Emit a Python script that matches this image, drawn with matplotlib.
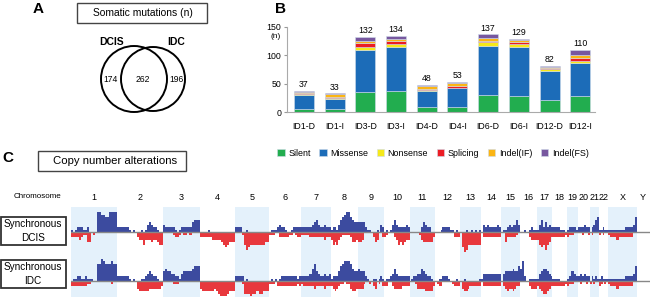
import numpy as np
import matplotlib.pyplot as plt
from matplotlib.patches import Rectangle, Circle

plt.rcParams['font.family'] = ['Liberation Sans', 'DejaVu Sans']

# ---- Panel A: Venn counts (DCIS only, shared, IDC only)
venn_labels = ["DCIS", "IDC"]
venn_counts = [174, 262, 196]

# ---- Panel B: somatic mutations per sample
samples = ["ID1-D", "ID1-I", "ID3-D", "ID3-I", "ID4-D",
           "ID4-I", "ID6-D", "ID6-I", "ID12-D", "ID12-I"]
mut_types = ["Silent", "Missense", "Nonsense", "Splicing", "Indel(IF)", "Indel(FS)"]
mut_colors = ["#22ad4f", "#1c6cb8", "#f5e91a", "#ec1c24", "#fbb514", "#77579f"]
silent = [6, 5, 36, 37, 9, 9, 30, 29, 22, 28]
missense = [24, 18, 73, 78, 28, 33, 86, 85, 51, 59]
nonsense = [1, 2, 5, 5, 1, 1, 7, 6, 3, 3]
splicing = [2, 2, 8, 5, 3, 3, 3, 4, 1, 5]
indel_if = [3, 5, 4, 3, 5, 5, 4, 3, 3, 5]
indel_fs = [1, 1, 6, 6, 2, 2, 7, 2, 2, 10]
totals = [37, 33, 132, 134, 48, 53, 137, 129, 82, 110]

# ---- Panel C: copy number alterations
chroms = [str(i) for i in range(1, 23)] + ["X", "Y"]
chrom_len = [249, 243, 198, 191, 181, 171, 159, 146, 141, 136, 135, 134,
             115, 107, 102, 90, 83, 78, 59, 63, 48, 51, 155, 57]  # Mb
# one digit per bin along each chromosome (relative frequency level)
dcis_gain = ["10122211200008877668888", "22222210100010134322100", "322222101222224555",
             "000010000000000000", "2220010000000000", "0111232210012222",
             "22222345322322", "12213567886544", "44442110001032", "0101353222232",
             "0000002432200", "0001222211010", "00010010101", "0323222232",
             "0112323353", "00101211", "13524232", "22221110", "12221", "222322",
             "02356", "11211", "11111111222236", "000"]
dcis_loss = ["22223211440100000000000", "00000000002335333433455", "000001221011010000",
             "222222333334565444", "0001576555555544", "1110022222110122",
             "11112222222322", "35453211112443", "44300000243002", "2100023545433",
             "0000013444442", "0000000000222", "06875555555", "0222222222",
             "0042222210", "00002333", "35657542", "22222221", "21100", "001001",
             "01000", "10100", "12223222222200", "000"]
idc_gain = ["01122112111007798777877", "22222210100011234322100", "454433221344445666",
            "000000000000000000", "2222010000000000", "0101012222222212",
            "22223574322323", "12224678887544", "54442100110121", "0112353222222",
            "0122335432210", "0011222100010", "00100000001", "1333333333",
            "0344445446", "58201111", "13455432", "11110000", "12432", "232322",
            "02121", "12111", "11111111222236", "000"]
idc_loss = ["22222222110000000000100", "00000000003444443333332", "000001110000000000",
            "344444434566665444", "0001555655455444", "1110222222222212",
            "12222232222322", "23432110113443", "33310010230102", "2200233332222",
            "0001333344442", "0122000001222", "03443222222", "0222222222",
            "0234334322", "00002333", "23455432", "22222221", "21100", "010010",
            "10100", "21010", "12223222222200", "000"]

W, H = 650, 306
LEVEL = 2.5  # px per level


def fig_rect(left, top, width, height):
    # pixel box (from top-left) -> figure fraction
    return [left / W, 1 - (top + height) / H, width / W, height / H]


def draw_overlay(fig):
    ov = fig.add_axes([0, 0, 1, 1])
    ov.set_xlim(0, W)
    ov.set_ylim(H, 0)
    ov.axis("off")
    ov.patch.set_visible(False)

    # panel letters
    for lab, x, y in [("A", 38, 9), ("B", 280, 9), ("C", 8, 158)]:
        ov.text(x, y, lab, fontsize=11, fontweight="bold", ha="center", va="center")

    # titled boxes
    ov.add_patch(Rectangle((77, 3), 130, 20, fill=False, ec="#444444", lw=1.0))
    ov.text(143, 13.5, "Somatic mutations (n)", fontsize=7.4, ha="center", va="center")
    ov.add_patch(Rectangle((38, 151), 148, 20, fill=False, ec="#444444", lw=1.0))
    ov.text(115, 161.5, "Copy number alterations", fontsize=8.2, ha="center", va="center")

    # Venn diagram
    ov.add_patch(Circle((134, 79), 33, fill=False, ec="black", lw=1.4))
    ov.add_patch(Circle((153, 79), 32, fill=False, ec="black", lw=1.4))
    ov.text(112, 42, venn_labels[0], fontsize=7.5, fontweight="bold", ha="center", va="center")
    ov.text(176, 42, venn_labels[1], fontsize=7.5, fontweight="bold", ha="center", va="center")
    for x, n in zip([110.5, 143, 176.5], venn_counts):
        ov.text(x, 80, str(n), fontsize=6.2, ha="center", va="center")

    # row label boxes
    for top, name in [(217, "DCIS"), (260, "IDC")]:
        ov.add_patch(Rectangle((0.5, top), 65, 28, fill=False, ec="#333333", lw=1.3))
        ov.text(33, top + 7, "Synchronous", fontsize=7.2, ha="center", va="center")
        ov.text(33, top + 21, name, fontsize=7.2, ha="center", va="center")

    ov.text(37, 197, "Chromosome", fontsize=5.8, ha="center", va="center")


def draw_bars(fig):
    ax = fig.add_axes(fig_rect(287, 27, 308, 85))
    x = np.arange(len(samples))
    stacks = [silent, missense, nonsense, splicing, indel_if, indel_fs]
    bottom = np.zeros(len(samples))
    for vals, col, name in zip(stacks, mut_colors, mut_types):
        ax.bar(x, vals, 0.65, bottom=bottom, color=col, edgecolor="#cfdcea",
               linewidth=0.4, label=name)
        bottom += np.array(vals)
    for xi, t in zip(x, totals):
        ax.text(xi, t + 11, str(t), fontsize=6.3, ha="center", va="center")

    ax.set_xlim(-0.55, 9.48)
    ax.set_ylim(0, 150)
    ax.set_yticks([0, 50, 100, 150])
    ax.set_xticks(x)
    ax.set_xticklabels(samples)
    ax.tick_params(axis="y", labelsize=6.3, length=2, color="#999999", pad=2)
    ax.tick_params(axis="x", labelsize=6.3, length=0, pad=7)
    for s in ["top", "right"]:
        ax.spines[s].set_visible(False)
    for s in ["left", "bottom"]:
        ax.spines[s].set_color("#aaaaaa")
        ax.spines[s].set_linewidth(0.8)
    ax.text(-0.75, 133, "(n)", fontsize=6, ha="right", va="center")

    handles, labels = ax.get_legend_handles_labels()
    fig.legend(handles, labels, loc="center", bbox_to_anchor=(433 / W, 1 - 153 / H),
               ncol=6, frameon=False, fontsize=6.4, handlelength=0.8,
               handleheight=0.8, handletextpad=0.4, columnspacing=1.0)


def draw_cna(fig):
    ax = fig.add_axes(fig_rect(71, 207, 579, 90))
    starts = np.concatenate([[0], np.cumsum(chrom_len)[:-1]])
    ax.set_xlim(0, 3104)
    ax.set_ylim(0, 90)
    ax.axis("off")

    for i, (s, L) in enumerate(zip(starts, chrom_len)):
        if i % 2 == 0:
            ax.axvspan(s, s + L, color="#e4f1fb", lw=0, zorder=0)
        lab_y = 1 + 10 / 90
        ax.text(s + L / 2, lab_y, chroms[i], transform=ax.get_xaxis_transform(),
                fontsize=6.5, ha="center", va="center", clip_on=False)

    rows = [(65, dcis_gain, dcis_loss), (16, idc_gain, idc_loss)]
    for base, gains, losses in rows:
        for s, L, g, l in zip(starts, chrom_len, gains, losses):
            for prof, sign, col in [(g, 1, "#3c4b9f"), (l, -1, "#e8383d")]:
                v = np.array([int(c) for c in prof])
                w = L / len(v)
                xs = s + w * np.arange(len(v))
                ax.bar(xs, sign * v * LEVEL, w, bottom=base, align="edge",
                       color=col, linewidth=0, zorder=2)
        ax.axhline(base, color="#888888", lw=1.0, zorder=3)


def main():
    fig = plt.figure(figsize=(W / 100, H / 100), dpi=100)
    draw_bars(fig)
    draw_cna(fig)
    draw_overlay(fig)
    fig.savefig("out.png", dpi=100)
    plt.close(fig)


if __name__ == "__main__":
    main()
